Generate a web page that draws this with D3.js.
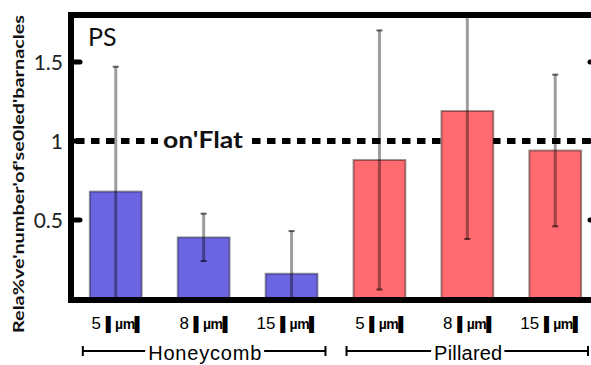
<!DOCTYPE html>
<html><head><meta charset="utf-8">
<script src="https://cdn.jsdelivr.net/npm/d3@7"></script>
<style>body{margin:0;background:#fff}svg{display:block}</style>
</head><body>
<script>
const categories = ["H5","H8","H15","P5","P8","P15"];
const sizeLabels = ["5","8","15","5","8","15"];
const groups = ["H","H","H","P","P","P"];
const means = [0.68, 0.39, 0.16, 0.88, 1.19, 0.94];
const errors = [0.79, 0.15, 0.27, 0.82, 0.81, 0.48];
const yTicks = [0.5, 1, 1.5];
const groupNames = [{key:"H", name:"Honeycomb"},{key:"P", name:"Pillared"}];
const refValue = 1;

const W = 591, H = 365;
const svg = d3.select("body").append("svg").attr("width", W).attr("height", H);

const y = d3.scaleLinear().domain([0, 1.8]).range([299, 14.6]);
const x = d3.scaleBand().domain(categories).range([74, 597]).paddingInner(0.41).paddingOuter(0.18);
const color = {H: "#6b65e2", P: "#ff6b70"};

// dashed reference line (behind bars)
const yr = y(refValue);
svg.append("line").attr("x1", 76).attr("x2", 158).attr("y1", yr).attr("y2", yr)
  .attr("stroke", "#000").attr("stroke-width", 6).attr("stroke-dasharray", "8.5,6.5");
svg.append("line").attr("x1", 252).attr("x2", 600).attr("y1", yr).attr("y2", yr)
  .attr("stroke", "#000").attr("stroke-width", 6).attr("stroke-dasharray", "8.5,6.5");
svg.append("text").attr("x", 163).attr("y", yr + 7).attr("font-family", "Lato, 'Open Sans', sans-serif")
  .attr("font-weight", "bold").attr("font-size", 22).attr("textLength", 80).attr("lengthAdjust", "spacingAndGlyphs")
  .attr("fill", "#111").text("on'Flat");

// bars
svg.selectAll("rect.bar").data(categories).enter().append("rect")
  .attr("class", "bar")
  .attr("x", d => x(d)).attr("width", x.bandwidth())
  .attr("y", (d, i) => y(means[i])).attr("height", (d, i) => y(0) - y(means[i]))
  .attr("fill", (d, i) => color[groups[i]])
  .attr("stroke", "rgba(0,0,0,0.38)").attr("stroke-width", 2);

// error bars
const [lo, hi] = y.domain();
categories.forEach((c, i) => {
  const cx = x(c) + x.bandwidth() / 2;
  const top = means[i] + errors[i], bot = means[i] - errors[i];
  const yt = y(Math.min(top, hi)), yb = y(Math.max(bot, lo));
  svg.append("line").attr("x1", cx).attr("x2", cx).attr("y1", yt).attr("y2", yb)
    .attr("stroke", "rgba(0,0,0,0.38)").attr("stroke-width", 3);
  if (top <= hi) svg.append("line").attr("x1", cx - 3).attr("x2", cx + 3).attr("y1", yt).attr("y2", yt)
    .attr("stroke", "rgba(0,0,0,0.6)").attr("stroke-width", 2);
  if (bot >= lo) svg.append("line").attr("x1", cx - 3).attr("x2", cx + 3).attr("y1", yb).attr("y2", yb)
    .attr("stroke", "rgba(0,0,0,0.6)").attr("stroke-width", 2);
});

// frame
svg.append("path").attr("d", `M600,15 H71 V300 H600`).attr("fill", "none")
  .attr("stroke", "#000").attr("stroke-width", 6).attr("stroke-linejoin", "miter");

// ticks
const yAxis = d3.axisLeft(y).tickValues(yTicks).tickSize(0).tickPadding(0).tickFormat(d3.format("~g"));
svg.selectAll("line.ltick").data(yTicks).enter().append("line").attr("class", "ltick")
  .attr("x1", 72).attr("x2", 80).attr("y1", d => y(d)).attr("y2", d => y(d))
  .attr("stroke", "#000").attr("stroke-width", 5).attr("stroke-linecap", "round");
svg.selectAll("line.rtick").data(yTicks).enter().append("line").attr("class", "rtick")
  .attr("x1", 590).attr("x2", 598).attr("y1", d => y(d)).attr("y2", d => y(d))
  .attr("stroke", "#000").attr("stroke-width", 5).attr("stroke-linecap", "round");
const ga = svg.append("g").attr("transform", "translate(63,0)").call(yAxis);
ga.select(".domain").remove();
ga.selectAll("text").attr("font-family", "Lato, 'Open Sans', sans-serif").attr("font-size", 21).attr("fill", "#222").attr("dy", "0.35em");

// PS label
svg.append("text").attr("x", 88).attr("y", 46).attr("font-family", "Lato, 'Open Sans', sans-serif")
  .attr("font-size", 25).attr("fill", "#111").text("PS");

// y label
svg.append("text").attr("transform", "translate(24,174) rotate(-90)").attr("text-anchor", "middle")
  .attr("font-family", "Lato, 'Open Sans', sans-serif").attr("font-weight", "bold").attr("font-size", 16)
  .attr("textLength", 318).attr("lengthAdjust", "spacingAndGlyphs").attr("fill", "#111")
  .text("Rela%ve'number'of'se0led'barnacles");

// x category labels
const xl = svg.selectAll("text.xl").data(categories).enter().append("text").attr("class", "xl")
  .attr("x", (d, i) => x(d) + x.bandwidth() / 2 + (sizeLabels[i].length > 1 ? -4 : 2)).attr("y", 329).attr("text-anchor", "middle")
  .attr("font-family", "'Liberation Sans', Arial, sans-serif").attr("font-size", 17).attr("fill", "#000");
xl.append("tspan").text((d, i) => sizeLabels[i] + " ");
xl.append("tspan").attr("font-weight", "bold").attr("font-size", 14).attr("letter-spacing", -0.5).text("▌µm▌");

// group brackets
groupNames.forEach(g => {
  const cats = categories.filter((c, i) => groups[i] === g.key);
  const x0 = x(cats[0]) - 7, x1 = Math.min(x(cats[cats.length - 1]) + x.bandwidth() + 8, 588);
  const cx = (x0 + x1) / 2 + 1;
  const t = svg.append("text").attr("x", cx).attr("y", 360).attr("text-anchor", "middle")
    .attr("font-family", "'Liberation Sans', Arial, sans-serif").attr("font-size", 20)
    .attr("letter-spacing", g.key === "H" ? 0.8 : 0.2).attr("fill", "#000").text(g.name);
  const bb = t.node().getBBox();
  const ly = 351;
  svg.append("line").attr("x1", x0).attr("x2", bb.x - 3).attr("y1", ly).attr("y2", ly).attr("stroke", "#000").attr("stroke-width", 2);
  svg.append("line").attr("x1", bb.x + bb.width + 2).attr("x2", x1).attr("y1", ly).attr("y2", ly).attr("stroke", "#000").attr("stroke-width", 2);
  [x0, x1].forEach(xx => svg.append("line").attr("x1", xx).attr("x2", xx).attr("y1", ly - 5).attr("y2", ly + 5).attr("stroke", "#000").attr("stroke-width", 2));
});
</script>
</body></html>
